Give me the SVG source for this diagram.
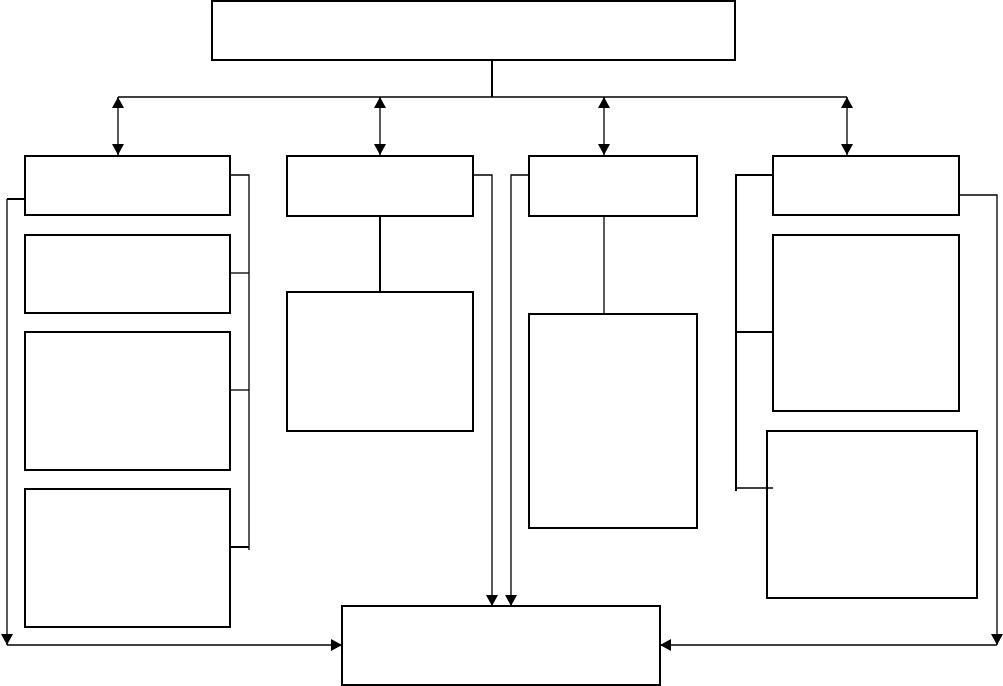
<svg xmlns="http://www.w3.org/2000/svg" width="1003" height="686" viewBox="0 0 1003 686">
<style>
.box{fill:none;stroke:#000;stroke-width:2}
.ln{fill:none;stroke:#000;stroke-width:1.3}
.thk{fill:none;stroke:#000;stroke-width:2}
.arr{marker-end:url(#ah)}
.dbl{marker-start:url(#ah);marker-end:url(#ah)}
</style>
<defs>
<marker id="ah" viewBox="0 0 11 12" refX="11" refY="6" markerWidth="11" markerHeight="12" markerUnits="userSpaceOnUse" orient="auto-start-reverse">
<path d="M0,0 L11,6 L0,12 Z" fill="#000"/>
</marker>
</defs>
<rect width="1003" height="686" fill="#fff"/>
<g id="connectors">
<line class="thk" x1="492" y1="60" x2="492" y2="97"/>
<line class="ln" x1="118" y1="97" x2="847" y2="97"/>
<line class="ln dbl" x1="118" y1="97" x2="118" y2="155"/>
<line class="ln dbl" x1="380" y1="97" x2="380" y2="155"/>
<line class="ln dbl" x1="604" y1="97" x2="604" y2="155"/>
<line class="ln dbl" x1="847" y1="97" x2="847" y2="155"/>
<polyline class="ln" points="230,175 249,175 249,550"/>
<line class="ln" x1="230" y1="273" x2="249" y2="273"/>
<line class="ln" x1="230" y1="390" x2="249" y2="390"/>
<line class="thk" x1="230" y1="547" x2="249" y2="547"/>
<line class="thk" x1="25" y1="199" x2="7" y2="199"/>
<polyline class="ln arr" points="7,199 7,645"/>
<line class="ln arr" x1="7" y1="645" x2="342" y2="645"/>
<line class="thk" x1="380" y1="216" x2="380" y2="292"/>
<polyline class="ln arr" points="473,175 492,175 492,606"/>
<polyline class="ln arr" points="529,175 511,175 511,606"/>
<line class="ln" x1="604" y1="216" x2="604" y2="314"/>
<polyline class="thk" points="773,175 736,175 736,491"/>
<line class="thk" x1="736" y1="332" x2="773" y2="332"/>
<line class="ln" x1="736" y1="488" x2="773" y2="488"/>
<polyline class="ln arr" points="959,195 997,195 997,645"/>
<line class="ln arr" x1="997" y1="645" x2="660" y2="645"/>
</g>
<g id="top"><rect class="box" x="212" y="1" width="523" height="59"/></g>
<g id="a"><rect class="box" x="25" y="156" width="205" height="59"/></g>
<g id="a1"><rect class="box" x="25" y="235" width="205" height="78"/></g>
<g id="a2"><rect class="box" x="25" y="332" width="205" height="138"/></g>
<g id="a3"><rect class="box" x="25" y="489" width="205" height="138"/></g>
<g id="b"><rect class="box" x="287" y="156" width="186" height="60"/></g>
<g id="b1"><rect class="box" x="287" y="292" width="186" height="139"/></g>
<g id="c"><rect class="box" x="529" y="156" width="168" height="60"/></g>
<g id="c1"><rect class="box" x="529" y="314" width="168" height="214"/></g>
<g id="d"><rect class="box" x="773" y="156" width="186" height="59"/></g>
<g id="d1"><rect class="box" x="773" y="235" width="186" height="176"/></g>
<g id="d2"><rect class="box" x="767" y="431" width="210" height="167"/></g>
<g id="bottom"><rect class="box" x="342" y="606" width="318" height="79"/></g>
</svg>
